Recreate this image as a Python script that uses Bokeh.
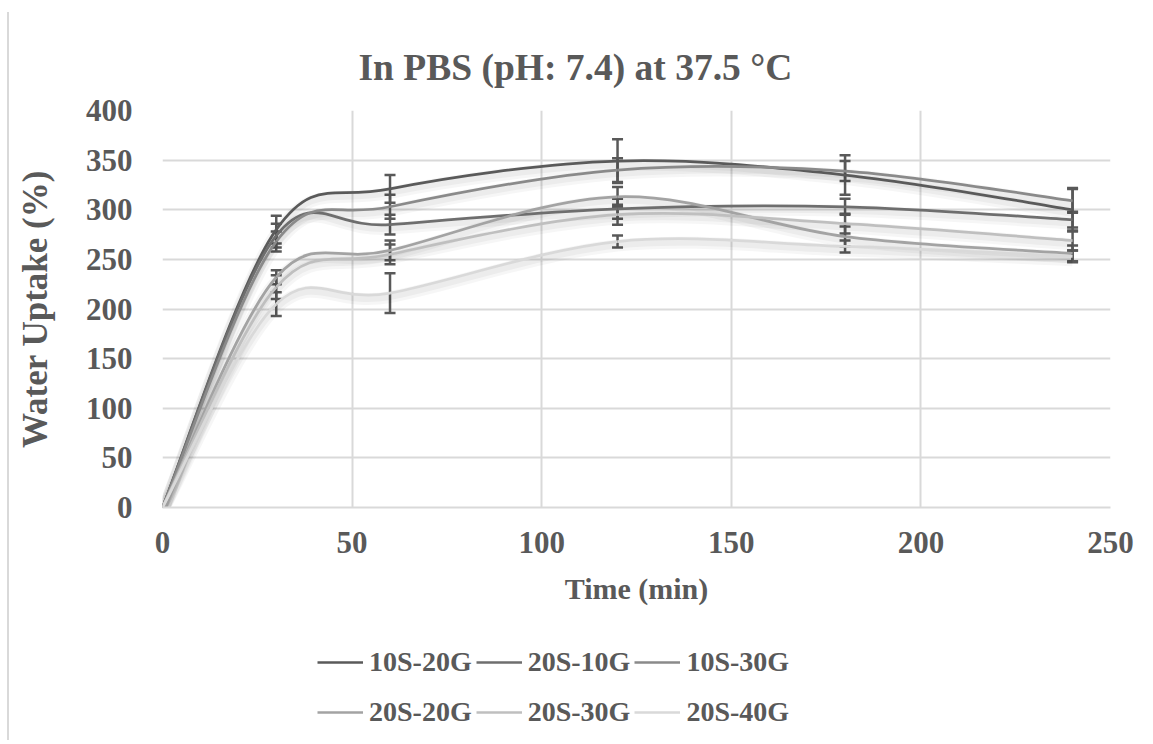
from bokeh.plotting import figure
from bokeh.layouts import column
from bokeh.models import (Range1d, ColumnDataSource, Whisker, TeeHead, Legend, LegendItem,
                          FixedTicker)
from bokeh.embed import file_html
from bokeh.resources import INLINE

# ---- data ----
time_min = [0, 30, 60, 120, 180, 240]
series_names = ["10S-20G", "20S-10G", "10S-30G", "20S-20G", "20S-30G", "20S-40G"]
uptake_10S_20G = [0, 280, 321, 349, 335, 300]
uptake_20S_10G = [0, 274, 285, 301, 303, 290]
uptake_10S_30G = [0, 268, 303, 340, 339, 309]
uptake_20S_20G = [0, 232, 259, 313, 273, 256]
uptake_20S_30G = [0, 222, 255, 295, 286, 269]
uptake_20S_40G = [0, 205, 216, 268, 263, 253]
err_10S_20G = [0, 14, 14, 22, 20, 22]
err_20S_10G = [0, 12, 10, 10, 8, 8]
err_10S_30G = [0, 10, 12, 12, 10, 12]
err_20S_20G = [0, 7, 10, 10, 10, 8]
err_20S_30G = [0, 12, 10, 10, 10, 10]
err_20S_40G = [0, 12, 20, 6, 6, 6]

uptakes = [uptake_10S_20G, uptake_20S_10G, uptake_10S_30G,
           uptake_20S_20G, uptake_20S_30G, uptake_20S_40G]
errors = [err_10S_20G, err_20S_10G, err_10S_30G, err_20S_20G, err_20S_30G, err_20S_40G]
colors = ["#5a5a5a", "#6e6e6e", "#8a8a8a", "#a3a3a3", "#bfbfbf", "#d9d9d9"]

TXT = "#595959"
FONT = "Liberation Serif"
GRID = "#d9d9d9"


def smooth_segments(xs, ys, t=1.0 / 6.0):
    """Catmull-Rom style cubic Bezier segments (Excel-like smoothed line)."""
    n = len(xs)
    d = dict(x0=[], y0=[], x1=[], y1=[], cx0=[], cy0=[], cx1=[], cy1=[])
    for i in range(n - 1):
        im1 = max(i - 1, 0)
        ip2 = min(i + 2, n - 1)
        d["x0"].append(xs[i]); d["y0"].append(ys[i])
        d["x1"].append(xs[i + 1]); d["y1"].append(ys[i + 1])
        d["cx0"].append(xs[i] + (xs[i + 1] - xs[im1]) * t)
        d["cy0"].append(ys[i] + (ys[i + 1] - ys[im1]) * t)
        d["cx1"].append(xs[i + 1] - (xs[ip2] - xs[i]) * t)
        d["cy1"].append(ys[i + 1] - (ys[ip2] - ys[i]) * t)
    return d


p = figure(width=1142, height=608, output_backend="svg", toolbar_location=None,
           x_range=Range1d(0, 250), y_range=Range1d(0, 400),
           min_border_left=153, min_border_right=41, min_border_top=98,
           min_border_bottom=113, outline_line_color=None)

p.title.text = "In PBS (pH: 7.4) at 37.5 °C"
p.title.align = "left"
p.title.offset = 196
p.title.standoff = 46
p.title.text_font = FONT
p.title.text_font_style = "bold"
p.title.text_font_size = "37.5px"
p.title.text_color = TXT

# grid
p.xgrid.ticker = FixedTicker(ticks=[0, 50, 100, 150, 200, 250])
p.ygrid.ticker = FixedTicker(ticks=list(range(0, 401, 50)))
p.xgrid.grid_line_color = GRID
p.ygrid.grid_line_color = GRID
p.xgrid.grid_line_width = 2
p.ygrid.grid_line_width = 2

# axes
for ax in (p.xaxis[0], p.yaxis[0]):
    ax.major_tick_line_color = None
    ax.minor_tick_line_color = None
    ax.major_label_text_font = FONT
    ax.major_label_text_font_style = "bold"
    ax.major_label_text_color = TXT
    ax.major_label_text_font_size = "31px"
    ax.axis_label_text_font = FONT
    ax.axis_label_text_font_style = "bold"
    ax.axis_label_text_color = TXT
p.xaxis.axis_label_text_font_size = "30px"
p.yaxis.axis_label_text_font_size = "35px"
p.xaxis.ticker = FixedTicker(ticks=[0, 50, 100, 150, 200, 250])
p.yaxis.ticker = FixedTicker(ticks=list(range(0, 401, 50)))
p.xaxis.axis_line_color = GRID
p.xaxis.axis_line_width = 2
p.yaxis.axis_line_color = None
p.xaxis.major_label_standoff = 18
p.yaxis.major_label_standoff = 24
p.xaxis.axis_label = "Time (min)"
p.yaxis.axis_label = "Water Uptake (%)"
p.xaxis.axis_label_standoff = 16
p.yaxis.axis_label_standoff = 28

# shadows
for ys in uptakes:
    d = smooth_segments(time_min, [y - 4 for y in ys])
    src = ColumnDataSource(d)
    p.bezier(x0="x0", y0="y0", x1="x1", y1="y1", cx0="cx0", cy0="cy0", cx1="cx1", cy1="cy1",
             source=src, line_color="black", line_alpha=0.035, line_width=12)
    p.bezier(x0="x0", y0="y0", x1="x1", y1="y1", cx0="cx0", cy0="cy0", cx1="cx1", cy1="cy1",
             source=src, line_color="black", line_alpha=0.04, line_width=6)

# error bars
for ys, es in zip(uptakes, errors):
    src = ColumnDataSource(dict(base=time_min[1:],
                                upper=[y + e for y, e in zip(ys[1:], es[1:])],
                                lower=[y - e for y, e in zip(ys[1:], es[1:])]))
    w = Whisker(source=src, base="base", upper="upper", lower="lower",
                line_color="#595959", line_width=2.5,
                upper_head=TeeHead(size=11, line_color="#595959", line_width=2.5),
                lower_head=TeeHead(size=11, line_color="#595959", line_width=2.5))
    p.add_layout(w)

# lines
for name, ys, c in zip(series_names, uptakes, colors):
    src = ColumnDataSource(smooth_segments(time_min, ys))
    p.bezier(x0="x0", y0="y0", x1="x1", y1="y1", cx0="cx0", cy0="cy0", cx1="cx1", cy1="cy1",
             source=src, line_color=c, line_width=2.75)

# legend panel (separate figure below the chart; series drawn out of view as legend proxies)
pl = figure(width=1142, height=120, output_backend="svg", toolbar_location=None,
            x_range=Range1d(0, 1), y_range=Range1d(1000, 1001),
            min_border=0, outline_line_color=None)
pl.axis.visible = False
pl.grid.visible = False
leg_items = []
for name, ys, c in zip(series_names, uptakes, colors):
    r = pl.line(x=time_min, y=ys, line_color=c, line_width=2.5)
    leg_items.append(LegendItem(label=name, renderers=[r]))
legend = Legend(items=leg_items, ncols=3, orientation="horizontal", location=(155, 5),
                border_line_alpha=0, background_fill_alpha=0,
                label_text_font=FONT, label_text_font_style="bold", label_text_color=TXT,
                label_text_font_size="28px", glyph_width=46, glyph_height=46, label_height=46,
                label_standoff=6, spacing=4, padding=0, margin=0)
pl.add_layout(legend)

layout = column(p, pl, spacing=0)
layout.styles = {"margin-left": "7px", "margin-top": "12px", "border-left": "2px solid #d9d9d9"}

open("out.html", "w").write(file_html(layout, INLINE))
